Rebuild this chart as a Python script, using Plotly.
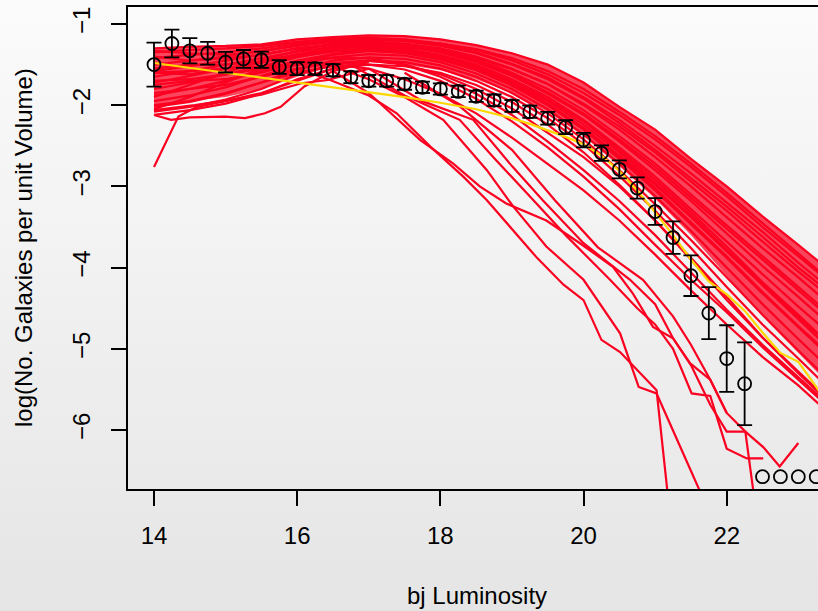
import base64
import plotly.graph_objects as go

# ---------------- data ----------------
obs_x = [14.0, 14.25, 14.5, 14.75, 15.0, 15.25, 15.5, 15.75, 16.0, 16.25, 16.5, 16.75,
         17.0, 17.25, 17.5, 17.75, 18.0, 18.25, 18.5, 18.75, 19.0, 19.25, 19.5, 19.75,
         20.0, 20.25, 20.5, 20.75, 21.0, 21.25, 21.5, 21.75, 22.0, 22.25]
obs_y = [-1.50, -1.24, -1.33, -1.36, -1.47, -1.43, -1.44, -1.53, -1.55, -1.55, -1.57, -1.655,
         -1.70, -1.70, -1.74, -1.78, -1.80, -1.83, -1.89, -1.94, -2.01, -2.08, -2.16, -2.27,
         -2.43, -2.59, -2.79, -3.02, -3.31, -3.63, -4.10, -4.56, -5.12, -5.43]
obs_err = [0.27, 0.17, 0.155, 0.14, 0.127, 0.11, 0.10, 0.085, 0.08, 0.075, 0.075, 0.072,
           0.072, 0.07, 0.07, 0.07, 0.07, 0.07, 0.07, 0.072, 0.073, 0.075, 0.078, 0.085,
           0.09, 0.095, 0.11, 0.13, 0.165, 0.20, 0.25, 0.32, 0.41, 0.51]
zero_x = [22.5, 22.75, 23.0, 23.25, 23.5]
zero_y = [-6.575, -6.575, -6.575, -6.575, -6.575]

fit_x = [14, 14.5, 15, 15.5, 16, 16.5, 17, 17.5, 18, 18.5, 19, 19.25, 19.5, 19.75, 20, 20.25,
         20.5, 20.75, 21, 21.25, 21.5, 21.75, 22, 22.25, 22.5, 22.75, 23, 23.25, 23.5]
fit_y = [-1.48, -1.54, -1.60, -1.66, -1.72, -1.78, -1.84, -1.90, -1.97, -2.05, -2.16, -2.23,
         -2.31, -2.39, -2.48, -2.62, -2.81, -3.05, -3.32, -3.60, -3.90, -4.17, -4.33, -4.53,
         -4.80, -5.05, -5.16, -5.47, -5.80]

grid_x = [14.0, 14.5, 15.0, 15.5, 16.0, 16.5, 17.0, 17.5, 18.0, 18.5,
          19.0, 19.5, 20.0, 20.5, 21.0, 21.5, 22.0, 22.5, 23.0, 23.5]
band_upper = [-1.30, -1.28, -1.27, -1.25, -1.19, -1.16, -1.14, -1.15, -1.19, -1.26,
              -1.36, -1.50, -1.72, -2.02, -2.30, -2.66, -3.00, -3.37, -3.72, -4.08]
band_lower = [-2.00, -1.95, -1.90, -1.80, -1.65, -1.52, -1.47, -1.50, -1.57, -1.68,
              -1.85, -2.08, -2.38, -2.75, -3.15, -3.60, -4.10, -4.60, -5.05, -5.50]

band_curves = [
    [-1.30, -1.28, -1.27, -1.25, -1.19, -1.16, -1.14, -1.15, -1.19, -1.26, -1.36, -1.50, -1.72, -2.02, -2.30, -2.66, -3.00, -3.37, -3.72, -4.08],
    [-1.35, -1.32, -1.30, -1.27, -1.22, -1.18, -1.17, -1.19, -1.24, -1.32, -1.45, -1.62, -1.85, -2.12, -2.42, -2.76, -3.12, -3.50, -3.86, -4.22],
    [-1.42, -1.38, -1.35, -1.30, -1.24, -1.20, -1.19, -1.21, -1.27, -1.36, -1.50, -1.68, -1.92, -2.22, -2.55, -2.90, -3.25, -3.62, -4.00, -4.35],
    [-1.50, -1.45, -1.40, -1.33, -1.27, -1.22, -1.21, -1.24, -1.30, -1.40, -1.55, -1.74, -2.00, -2.30, -2.64, -3.00, -3.38, -3.76, -4.12, -4.50],
    [-1.58, -1.52, -1.45, -1.38, -1.30, -1.25, -1.23, -1.26, -1.33, -1.44, -1.60, -1.80, -2.06, -2.38, -2.72, -3.10, -3.48, -3.86, -4.25, -4.62],
    [-1.65, -1.58, -1.50, -1.42, -1.34, -1.28, -1.26, -1.28, -1.35, -1.47, -1.64, -1.86, -2.12, -2.45, -2.80, -3.18, -3.58, -3.98, -4.36, -4.75],
    [-1.72, -1.64, -1.55, -1.46, -1.37, -1.30, -1.28, -1.31, -1.38, -1.50, -1.68, -1.90, -2.18, -2.52, -2.88, -3.28, -3.68, -4.08, -4.48, -4.86],
    [-1.80, -1.72, -1.62, -1.52, -1.41, -1.33, -1.30, -1.33, -1.41, -1.54, -1.72, -1.95, -2.24, -2.58, -2.96, -3.36, -3.78, -4.20, -4.60, -5.00],
    [-1.88, -1.80, -1.70, -1.58, -1.45, -1.37, -1.33, -1.36, -1.44, -1.57, -1.76, -2.00, -2.30, -2.66, -3.05, -3.46, -3.88, -4.32, -4.74, -5.15],
    [-1.95, -1.88, -1.78, -1.64, -1.50, -1.41, -1.37, -1.39, -1.47, -1.61, -1.80, -2.05, -2.36, -2.72, -3.12, -3.55, -4.00, -4.45, -4.88, -5.30],
    [-2.02, -1.96, -1.86, -1.72, -1.56, -1.45, -1.41, -1.43, -1.51, -1.65, -1.85, -2.10, -2.42, -2.80, -3.22, -3.66, -4.12, -4.58, -5.02, -5.45],
    [-2.08, -2.02, -1.93, -1.80, -1.62, -1.50, -1.45, -1.47, -1.55, -1.70, -1.90, -2.16, -2.48, -2.87, -3.30, -3.76, -4.24, -4.70, -5.12, -5.55],
    [-2.12, -2.06, -1.98, -1.86, -1.68, -1.55, -1.50, -1.52, -1.60, -1.75, -1.96, -2.24, -2.58, -2.98, -3.42, -3.90, -4.40, -4.86, -5.28, -5.70],
    [-1.40, -1.45, -1.42, -1.38, -1.30, -1.26, -1.25, -1.30, -1.40, -1.55, -1.75, -2.00, -2.28, -2.62, -2.98, -3.38, -3.80, -4.22, -4.64, -5.05],
    [-1.90, -1.75, -1.60, -1.45, -1.33, -1.24, -1.20, -1.20, -1.24, -1.31, -1.42, -1.58, -1.80, -2.08, -2.38, -2.72, -3.08, -3.45, -3.82, -4.20],
    [-1.60, -1.62, -1.55, -1.48, -1.38, -1.30, -1.26, -1.27, -1.32, -1.42, -1.56, -1.74, -1.98, -2.26, -2.58, -2.94, -3.30, -3.68, -4.05, -4.40],
    [-1.75, -1.70, -1.68, -1.60, -1.48, -1.38, -1.33, -1.34, -1.40, -1.52, -1.70, -1.93, -2.20, -2.55, -2.92, -3.32, -3.74, -4.18, -4.58, -5.00],
    [-1.33, -1.36, -1.38, -1.34, -1.26, -1.20, -1.18, -1.20, -1.25, -1.35, -1.49, -1.66, -1.90, -2.18, -2.50, -2.84, -3.20, -3.56, -3.94, -4.30],
    [-2.05, -1.90, -1.72, -1.55, -1.40, -1.31, -1.27, -1.28, -1.34, -1.45, -1.62, -1.84, -2.10, -2.42, -2.76, -3.14, -3.52, -3.90, -4.28, -4.66],
    [-1.55, -1.50, -1.50, -1.46, -1.40, -1.34, -1.32, -1.35, -1.43, -1.56, -1.74, -1.98, -2.28, -2.64, -3.02, -3.44, -3.86, -4.30, -4.72, -5.12],
    [-1.85, -1.80, -1.75, -1.65, -1.55, -1.48, -1.45, -1.50, -1.62, -1.80, -2.04, -2.34, -2.64, -3.00, -3.42, -3.88, -4.36, -4.86, -5.30, -5.72],
    [-1.70, -1.68, -1.62, -1.55, -1.47, -1.42, -1.42, -1.50, -1.65, -1.86, -2.12, -2.45, -2.80, -3.18, -3.60, -4.06, -4.52, -4.95, -5.35, -5.75],
    [-2.00, -1.95, -1.85, -1.72, -1.60, -1.52, -1.50, -1.56, -1.70, -1.92, -2.20, -2.52, -2.88, -3.28, -3.72, -4.15, -4.55, -4.98, -5.38, -5.78],
    [-1.60, -1.58, -1.55, -1.52, -1.50, -1.50, -1.55, -1.68, -1.86, -2.10, -2.40, -2.72, -3.05, -3.42, -3.84, -4.28, -4.70, -5.10, -5.45, -5.85],
]

# curves that dip below the band at the faint (left) end
dip_x = [
    [14.0, 14.24, 14.34, 14.6, 15.0, 15.5, 16.0, 16.5, 17.0],
    [14.0, 14.24, 14.5, 14.99, 15.27, 15.55, 15.77, 16.1, 16.5, 17.0],
    [14.0, 14.57, 15.03, 15.5, 16.06, 16.43, 17.0],
]
dip_y = [
    [-2.76, -2.31, -2.14, -2.02, -1.95, -1.85, -1.70, -1.55, -1.45],
    [-2.12, -2.18, -2.15, -2.14, -2.16, -2.10, -2.02, -1.77, -1.58, -1.47],
    [-2.06, -2.00, -1.94, -1.87, -1.73, -1.69, -1.55],
]

# curves that fall away steeply from the band
drop_x = [
    [16.0, 16.46, 17.0, 17.39, 17.86, 18.32, 18.65, 19.0, 19.35, 19.72, 20.0, 20.25, 20.51, 21.02, 21.16, 21.25],
    [16.5, 17.0, 17.5, 18.04, 18.65, 19.02, 19.48, 20.0, 20.51, 20.77, 21.02, 21.63, 21.75],
    [16.5, 17.0, 17.72, 18.18, 18.55, 18.92, 19.48, 19.95, 20.41, 20.69, 20.97, 21.25, 21.49, 21.77, 22.0, 22.26, 22.51, 22.74, 23.0],
    [16.75, 17.5, 18.27, 18.75, 19.3, 19.75, 20.37, 20.75, 21.0, 21.25, 21.51, 21.77, 22.0, 22.28, 22.51],
    [17.0, 17.75, 18.46, 19.0, 19.43, 20.0, 20.65, 21.0, 21.25, 21.5, 21.77, 22.0, 22.26, 22.37, 22.42],
    [17.5, 18.25, 19.0, 19.6, 20.2, 20.83, 21.25, 21.5, 21.77, 22.0],
]
drop_y = [
    [-1.55, -1.69, -1.88, -2.10, -2.51, -2.88, -3.17, -3.52, -3.88, -4.21, -4.40, -4.89, -5.04, -5.51, -6.74, -7.40],
    [-1.52, -1.68, -1.90, -2.18, -2.80, -3.25, -3.74, -4.15, -4.81, -5.47, -5.55, -6.74, -7.00],
    [-1.58, -1.85, -2.43, -2.72, -3.00, -3.21, -3.42, -3.70, -3.99, -4.32, -4.73, -4.87, -5.18, -5.38, -5.79, -6.02, -6.21, -6.45, -6.16],
    [-1.50, -1.88, -2.18, -2.65, -3.17, -3.60, -4.15, -4.50, -4.70, -5.00, -5.55, -5.58, -6.23, -6.35, -6.35],
    [-1.55, -1.95, -2.18, -2.75, -3.17, -3.70, -4.15, -4.45, -4.87, -5.20, -5.69, -6.02, -6.02, -6.74, -7.20],
    [-1.60, -2.00, -2.55, -3.17, -3.75, -4.15, -4.60, -4.95, -5.38, -5.79],
]

x_ticks = [14, 16, 18, 20, 22]
y_ticks = [-6, -5, -4, -3, -2, -1]
x_title = "bj Luminosity"
y_title = "log(No. Galaxies per unit Volume)"

# ---------------- styling ----------------
RED = "#fb0020"
GOLD = "#ffd700"
FONT = "Liberation Sans, Arial, Helvetica, sans-serif"
W, H = 818, 611
ML, MR, MT, MB = 128, 0, 7, 122
PW, PH = W - ML - MR, H - MT - MB

fig = go.Figure()

fig.add_trace(go.Scatter(
    x=grid_x + grid_x[::-1], y=band_upper + band_lower[::-1],
    fill="toself", fillcolor="rgba(251,0,32,0.72)", line=dict(width=0),
    mode="lines", hoverinfo="skip", showlegend=False))

for ys in band_curves:
    fig.add_trace(go.Scatter(x=grid_x, y=ys, mode="lines",
                             line=dict(color=RED, width=2.2), showlegend=False, hoverinfo="skip"))
for xs, ys in zip(dip_x, dip_y):
    fig.add_trace(go.Scatter(x=xs, y=ys, mode="lines",
                             line=dict(color=RED, width=2.2), showlegend=False, hoverinfo="skip"))
for xs, ys in zip(drop_x, drop_y):
    fig.add_trace(go.Scatter(x=xs, y=ys, mode="lines",
                             line=dict(color=RED, width=2.2), showlegend=False, hoverinfo="skip"))

fig.add_trace(go.Scatter(x=fit_x, y=fit_y, mode="lines",
                         line=dict(color=GOLD, width=2.2), showlegend=False))

fig.add_trace(go.Scatter(
    x=obs_x, y=obs_y, mode="markers",
    marker=dict(symbol="circle-open", size=13, color="black", line=dict(width=1.8, color="black")),
    error_y=dict(type="data", array=obs_err, visible=True, color="black", thickness=1.8, width=7.5),
    showlegend=False))
fig.add_trace(go.Scatter(
    x=zero_x, y=zero_y, mode="markers",
    marker=dict(symbol="circle-open", size=13, color="black", line=dict(width=1.8, color="black")),
    showlegend=False))

svg = (f"<svg xmlns='http://www.w3.org/2000/svg' width='{W}' height='{H}' preserveAspectRatio='none'>"
       "<defs><linearGradient id='g' x1='0' y1='0' x2='0' y2='1'>"
       "<stop offset='0' stop-color='#fbfbfb'/><stop offset='1' stop-color='#e5e5e5'/>"
       "</linearGradient></defs>"
       f"<rect width='{W}' height='{H}' fill='url(#g)'/></svg>")
bg_src = "data:image/svg+xml;base64," + base64.b64encode(svg.encode()).decode()

fig.update_layout(
    width=W, height=H,
    margin=dict(l=ML, r=MR, t=MT, b=MB, pad=0),
    paper_bgcolor="#eeeeee", plot_bgcolor="rgba(0,0,0,0)",
    font=dict(family=FONT, size=24, color="black"),
    images=[dict(source=bg_src, xref="paper", yref="paper",
                 x=-ML / PW, y=1 + MT / PH, sizex=W / PW, sizey=H / PH,
                 xanchor="left", yanchor="top", sizing="stretch", layer="below")],
    xaxis=dict(range=[13.6368, 23.275], tickvals=x_ticks, ticks="outside", ticklen=15,
               tickwidth=1.5, tickcolor="black", showline=True, linecolor="black",
               linewidth=2, mirror=True, showgrid=False, zeroline=False,
               tickfont=dict(size=24, family=FONT), ticklabelstandoff=9),
    yaxis=dict(range=[-6.7266, -0.7906], tickvals=y_ticks, ticks="outside", ticklen=15,
               tickwidth=1.5, tickcolor="black", showline=True, linecolor="black",
               linewidth=2, mirror=False, showgrid=False, zeroline=False, tickangle=-90,
               tickfont=dict(size=24, family=FONT), ticklabelstandoff=11),
    annotations=[
        dict(text=x_title, xref="paper", yref="paper", x=(476.5 - ML) / PW, y=-(595 - (H - MB)) / PH,
             showarrow=False, xanchor="center", yanchor="middle", font=dict(size=24, family=FONT)),
        dict(text=y_title, xref="paper", yref="paper", x=(23 - ML) / PW, y=0.5, textangle=-90,
             showarrow=False, xanchor="center", yanchor="middle", font=dict(size=24, family=FONT)),
    ],
)

fig.write_html("out.html")
